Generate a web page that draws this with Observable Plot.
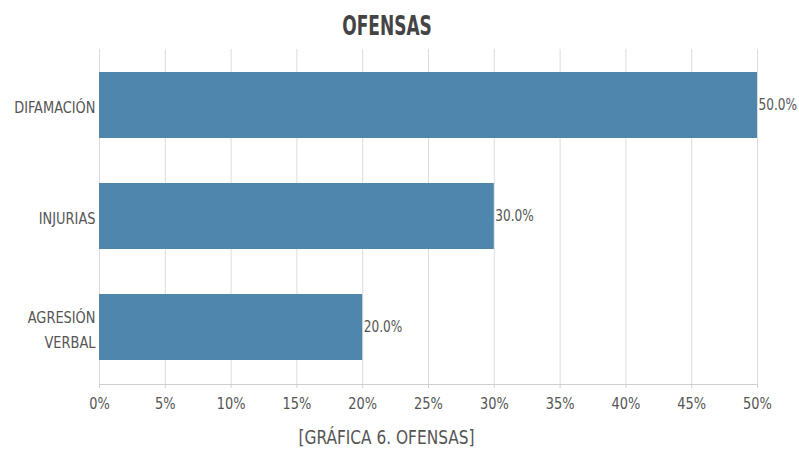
<!DOCTYPE html>
<html>
<head>
<meta charset="utf-8">
<script src="https://cdn.jsdelivr.net/npm/d3@7"></script>
<script src="https://cdn.jsdelivr.net/npm/@observablehq/plot@0.6"></script>
<style>
  html, body { margin: 0; padding: 0; background: #fff; }
  #wrap { width: 799px; height: 453px; overflow: hidden; font-family: "DejaVu Sans Condensed", sans-serif; }
  #title { position: relative; height: 40px; }
  #title span { position: absolute; left: 387px; top: 25px; transform: translate(-50%, -50%) scaleX(0.7); font-weight: bold; font-size: 27px; color: #444; white-space: nowrap; line-height: 1; }
</style>
</head>
<body>
<div id="wrap">
  <div id="title"><span>OFENSAS</span></div>
  <div id="chart"></div>
</div>
<script>
const categories = ["DIFAMACIÓN", "INJURIAS", "AGRESIÓN\nVERBAL"];
const values = [0.50, 0.30, 0.20];
const xTicks = [0, 0.05, 0.10, 0.15, 0.20, 0.25, 0.30, 0.35, 0.40, 0.45, 0.50];
const captionText = "[GRÁFICA 6. OFENSAS]";

const data = categories.map((c, i) => ({category: c, value: values[i]}));

const chart = Plot.plot({
  width: 799,
  height: 413,
  marginLeft: 99,
  marginRight: 42,
  marginTop: 9,
  marginBottom: 69,
  style: {fontFamily: '"DejaVu Sans Condensed", sans-serif', fontSize: "16px", color: "#555", background: "#fff"},
  x: {domain: [0, 0.5], ticks: xTicks, tickFormat: d3.format(".0%"), label: null},
  y: {domain: categories, paddingInner: 0.405, paddingOuter: 0.21, label: null},
  marks: [
    Plot.gridX(xTicks, {stroke: "#dcdcdc", strokeOpacity: 1}),
    Plot.frame({anchor: "bottom", stroke: "#cfcfcf"}),
    Plot.barX(data, {y: "category", x: "value", fill: "#4f86ae"}),
    Plot.text(data, {y: "category", x: "value", text: d => d3.format(".1%")(d.value), textAnchor: "start", dx: 1, fill: "#555", fontSize: 15}),
    Plot.axisX({ticks: xTicks, tickFormat: d3.format(".0%"), tickSize: 4, tickPadding: 9, stroke: "#cfcfcf", fill: "#555", fontSize: 16, label: null}),
    Plot.axisY({tickSize: 0, tickPadding: 4, fill: "#555", fontSize: 16, label: null, lineHeight: 1.55}),
    Plot.text([captionText], {frameAnchor: "bottom", dy: 59, dx: -42, text: d => d, fill: "#555", fontSize: 19})
  ]
});
document.getElementById("chart").appendChild(chart);

// narrow the glyphs to imitate the reference's condensed typeface
chart.querySelectorAll("text").forEach(t => {
  const ax = parseFloat(t.getAttribute("x")) || 0;
  const prev = t.getAttribute("transform") || "";
  t.setAttribute("transform", `${prev} translate(${ax},0) scale(0.9,1) translate(${-ax},0)`.trim());
});
</script>
</body>
</html>
